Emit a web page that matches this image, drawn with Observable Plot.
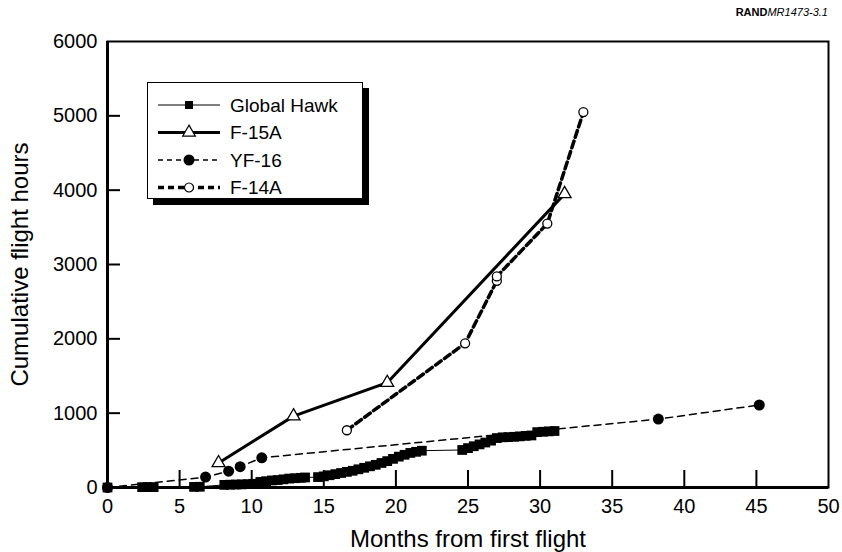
<!DOCTYPE html>
<html>
<head>
<meta charset="utf-8">
<script src="https://cdn.jsdelivr.net/npm/d3@7"></script>
<script src="https://cdn.jsdelivr.net/npm/@observablehq/plot@0.6"></script>
<style>
  body { margin: 0; background: white; }
  #wrap { position: relative; width: 842px; height: 552px; font-family: "Liberation Sans", Arial, sans-serif; color: black; }
  #credit { position: absolute; right: 14px; top: 6px; font-size: 11px; }
  #legend { position: absolute; left: 147px; top: 82px; width: 214px; height: 115px; border: 1.5px solid black; background: white; box-shadow: 6px 6px 0 black; }
</style>
</head>
<body>
<div id="wrap">
  <div id="credit"><b>RAND</b><i>MR1473-3.1</i></div>
  <div id="legend"></div>
</div>
<script>
// ---- data ----
const ghMonths = [0, 2.4, 2.8, 3.2, 6.0, 6.4, 8.1, 8.5, 8.9, 9.3, 9.7, 10.1, 10.6, 11.0, 11.4, 11.8, 12.2, 12.6, 13.0, 13.4, 13.7,
  14.6, 15.0, 15.4, 15.8, 16.2, 16.6, 17.0, 17.4, 17.8, 18.2, 18.6, 19.0, 19.4, 19.8, 20.2, 20.6, 21.0, 21.4, 21.8,
  24.6, 25.0, 25.4, 25.8, 26.2, 26.6, 27.0, 27.4, 27.8, 28.2, 28.6, 29.0, 29.4, 29.8, 30.2, 30.6, 31.0];
const ghHours = [0, 5, 5, 5, 8, 10, 35, 38, 40, 42, 45, 50, 75, 85, 95, 100, 110, 120, 125, 130, 135,
  140, 150, 165, 180, 195, 210, 225, 245, 265, 285, 305, 330, 355, 385, 415, 440, 465, 480, 495,
  505, 530, 555, 580, 605, 630, 665, 675, 678, 682, 688, 695, 700, 745, 750, 755, 760];

const f15Months = [7.7, 12.9, 19.4, 31.7];
const f15Hours = [330, 960, 1410, 3950];

const yf16Months = [0, 6.8, 8.4, 9.2, 10.7, 38.2, 45.2];
const yf16Hours = [0, 140, 220, 280, 400, 920, 1110];

const f14Months = [16.6, 24.8, 27.0, 27.0, 30.5, 33.0];
const f14Hours = [770, 1940, 2780, 2840, 3550, 5050];

const xTickValues = [0, 5, 10, 15, 20, 25, 30, 35, 40, 45, 50];
const yTickValues = [0, 1000, 2000, 3000, 4000, 5000, 6000];
const xInnerTicks = [5, 10, 15, 20, 25, 30, 35, 40, 45];
const yInnerTicks = [1000, 2000, 3000, 4000, 5000];

const seriesNames = ["Global Hawk", "F-15A", "YF-16", "F-14A"];

const toRows = (xs, ys) => xs.map((m, i) => ({m, h: ys[i]}));
const gh = toRows(ghMonths, ghHours);
const f15 = toRows(f15Months, f15Hours);
const yf16 = toRows(yf16Months, yf16Hours);
const f14 = toRows(f14Months, f14Hours);

const W = 842, H = 552, ML = 107, MR = 14, MT = 41, MB = 65;
const innerW = W - ML - MR, innerH = H - MT - MB;
const xTickLen = 17, yTickLen = 13;

const chart = Plot.plot({
  width: W,
  height: H,
  marginLeft: ML,
  marginRight: MR,
  marginTop: MT,
  marginBottom: MB,
  style: {fontFamily: "'Liberation Sans', Arial, sans-serif", fontSize: "20px", color: "black", background: "transparent"},
  x: {domain: [0, 50]},
  y: {domain: [0, 6000]},
  marks: [
    Plot.axisX(xTickValues, {tickSize: 0, tickPadding: 11, fontSize: 20, tickFormat: d3.format("d"), label: null}),
    Plot.axisX([], {tickSize: 0, fontSize: 24, label: "Months from first flight", labelAnchor: "center", labelOffset: 59, labelArrow: "none"}),
    Plot.axisY(yTickValues, {tickSize: 0, tickPadding: 10, fontSize: 20, tickFormat: d3.format("d"), label: null}),
    Plot.axisY([], {tickSize: 0, fontSize: 24, label: "Cumulative flight hours", labelAnchor: "center", labelOffset: 97, labelArrow: "none"}),
    // inward ticks
    Plot.ruleX(xInnerTicks, {insetTop: innerH - xTickLen, strokeWidth: 2, stroke: "black"}),
    Plot.ruleY(yInnerTicks, {insetRight: innerW - yTickLen, strokeWidth: 2, stroke: "black"}),
    Plot.frame({strokeWidth: 2, stroke: "black"}),
    Plot.ruleX([0], {strokeWidth: 3, stroke: "black"}),
    Plot.ruleY([0], {strokeWidth: 3, stroke: "black"}),
    // Global Hawk
    Plot.line(gh, {x: "m", y: "h", stroke: "black", strokeWidth: 1}),
    Plot.dot(gh, {x: "m", y: "h", symbol: "square", r: 5.5, fill: "black"}),
    // YF-16
    Plot.line(yf16, {x: "m", y: "h", stroke: "black", strokeWidth: 1.5, strokeDasharray: "7,5"}),
    Plot.dot(yf16, {x: "m", y: "h", r: 5.5, fill: "black"}),
    // F-15A
    Plot.line(f15, {x: "m", y: "h", stroke: "black", strokeWidth: 3}),
    Plot.dot(f15, {x: "m", y: "h", symbol: "triangle", r: 4.8, fill: "white", stroke: "black", strokeWidth: 1.3}),
    // F-14A
    Plot.line(f14, {x: "m", y: "h", stroke: "black", strokeWidth: 3.5, strokeDasharray: "7,4"}),
    Plot.dot(f14, {x: "m", y: "h", r: 4.5, fill: "white", stroke: "black", strokeWidth: 1.3})
  ]
});
document.getElementById("wrap").prepend(chart);

// ---- legend ----
const legendStyles = [
  {name: seriesNames[0], width: 1, dash: null, symbol: d3.symbolSquare, size: 64, fill: "black"},
  {name: seriesNames[1], width: 3, dash: null, symbol: d3.symbolTriangle, size: 70, fill: "white"},
  {name: seriesNames[2], width: 1.5, dash: "5,4", symbol: d3.symbolCircle, size: 95, fill: "black"},
  {name: seriesNames[3], width: 3.5, dash: "6,4", symbol: d3.symbolCircle, size: 64, fill: "white"}
];
const lsvg = d3.select("#legend").append("svg").attr("width", 214).attr("height", 115)
  .style("font-family", "'Liberation Sans', Arial, sans-serif").style("font-size", "19px");
legendStyles.forEach((s, i) => {
  const y = 22 + i * 27.5;
  const g = lsvg.append("g").attr("transform", `translate(0,${y})`);
  g.append("line").attr("x1", 10).attr("x2", 72).attr("y1", 0).attr("y2", 0)
    .attr("stroke", "black").attr("stroke-width", s.width).attr("stroke-dasharray", s.dash);
  g.append("path").attr("d", d3.symbol(s.symbol, s.size)()).attr("transform", "translate(41,0)")
    .attr("fill", s.fill).attr("stroke", "black").attr("stroke-width", s.fill === "white" ? 1.2 : 0);
  g.append("text").attr("x", 82).attr("y", 0).attr("dy", "0.35em").text(s.name);
});
</script>
</body>
</html>
